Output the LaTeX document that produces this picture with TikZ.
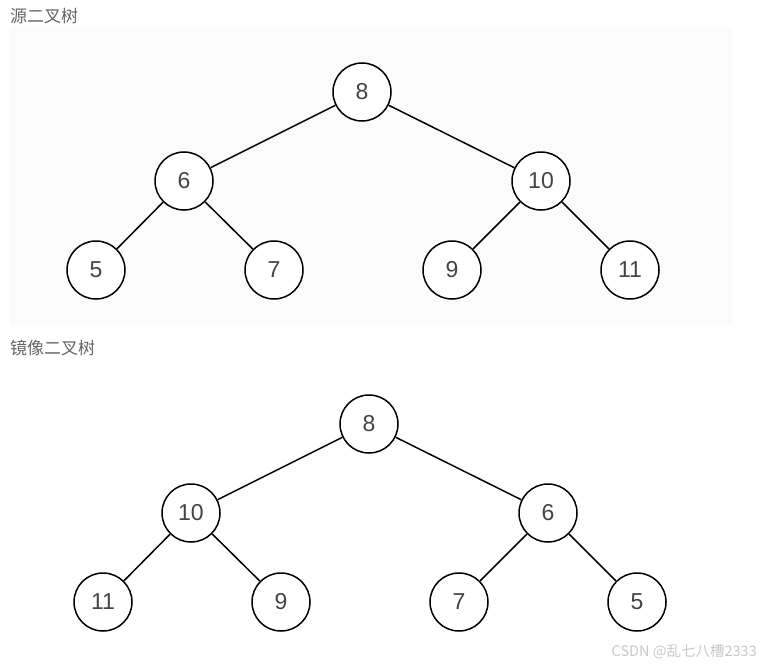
\documentclass[tikz,border=0pt]{standalone}
\usepackage{fontspec}
\setmainfont{Liberation Sans}
\newfontfamily\cjk{Noto Sans CJK SC}
\usetikzlibrary{positioning}
\definecolor{numgray}{RGB}{68, 68, 68}
\definecolor{capgray}{RGB}{100, 100, 100}
\definecolor{markgray}{RGB}{200, 200, 200}
\definecolor{panelgray}{RGB}{251, 251, 251}

\begin{document}
\begin{tikzpicture}[x=1pt, y=-1pt,
    tnode/.style={draw, circle, line width=1.5pt, fill=white, text=numgray,
                  minimum size=58pt, inner sep=0pt, font=\fontsize{23}{23}\selectfont},
    tedge/.style={line width=1.5pt},
    caption/.style={anchor=west, inner sep=0pt, text=capgray, font=\cjk\fontsize{17}{17}\selectfont}]
  \useasboundingbox (0,0) rectangle (767,666);
  \fill[panelgray] (10,28) rectangle (732,325);
  % source tree
  \node[caption] (cap1) at (10,16) {源二叉树};
  \node[tnode] (s8)  at (362,92)  {8};
  \node[tnode] (s6)  at (184,181) {6};
  \node[tnode] (s10) at (541,181) {10};
  \node[tnode] (s5)  at (96,270)  {5};
  \node[tnode] (s7)  at (274,270) {7};
  \node[tnode] (s9)  at (452,270) {9};
  \node[tnode] (s11) at (630,270) {11};
  \draw[tedge] (s8) -- (s6);
  \draw[tedge] (s8) -- (s10);
  \draw[tedge] (s6) -- (s5);
  \draw[tedge] (s6) -- (s7);
  \draw[tedge] (s10) -- (s9);
  \draw[tedge] (s10) -- (s11);
  % mirror tree
  \node[caption] (cap2) at (10,348) {镜像二叉树};
  \node[tnode] (m8)  at (369,424) {8};
  \node[tnode] (m10) at (191,513) {10};
  \node[tnode] (m6)  at (548,513) {6};
  \node[tnode] (m11) at (103,602) {11};
  \node[tnode] (m9)  at (281,602) {9};
  \node[tnode] (m7)  at (459,602) {7};
  \node[tnode] (m5)  at (637,602) {5};
  \draw[tedge] (m8) -- (m10);
  \draw[tedge] (m8) -- (m6);
  \draw[tedge] (m10) -- (m11);
  \draw[tedge] (m10) -- (m9);
  \draw[tedge] (m6) -- (m7);
  \draw[tedge] (m6) -- (m5);
  \node[anchor=east, inner sep=0pt, text=markgray, font=\cjk\fontsize{14.5}{14.5}\selectfont]
    (mark) at (757,652) {CSDN @乱七八槽2333};
\end{tikzpicture}
\end{document}
